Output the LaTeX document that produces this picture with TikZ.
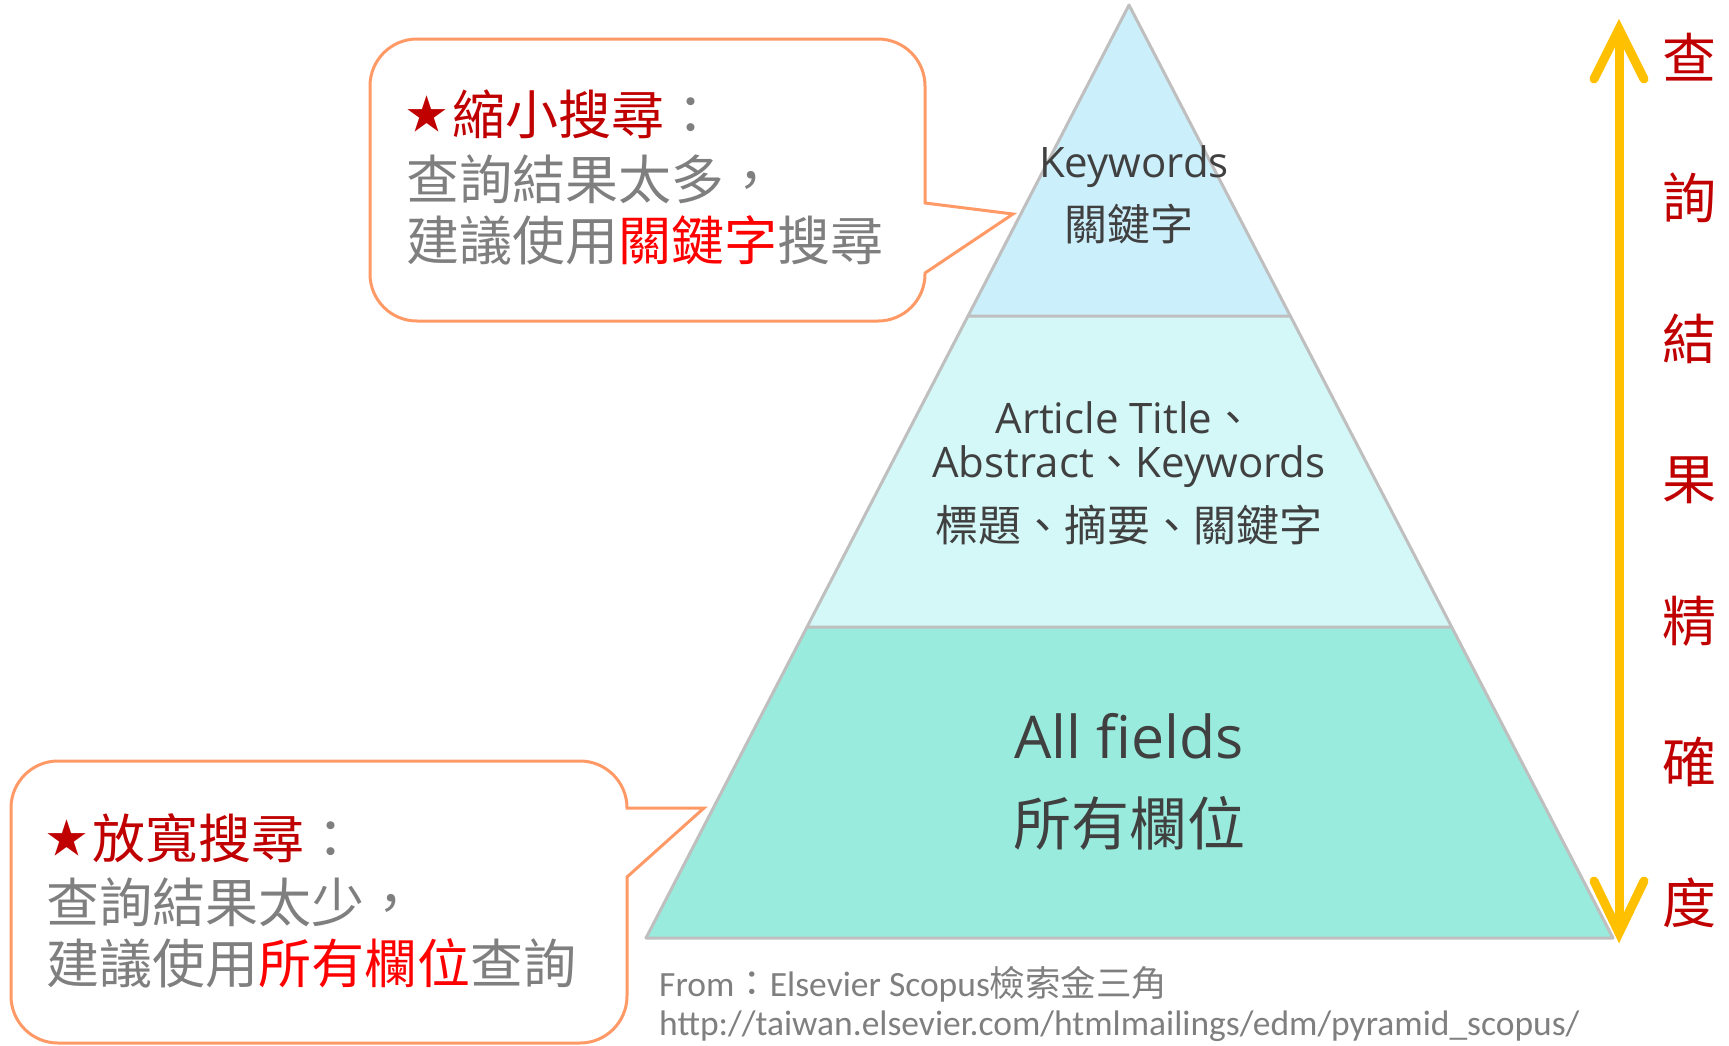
\documentclass[tikz,border=0pt]{standalone}
\usepackage{fontspec}
\setmainfont{Noto Sans CJK TC}
\newfontfamily\cjk{Noto Sans CJK TC}
\newfontfamily\lat{Open Sans}
\newfontfamily\foot{Carlito}
\usetikzlibrary{positioning,calc,arrows.meta}
\definecolor{tiertop}{HTML}{CCEFFC}
\definecolor{tiermid}{HTML}{D4F8F8}
\definecolor{tierbot}{HTML}{99EBDD}
\definecolor{edgegray}{HTML}{BFBFBF}
\definecolor{txtdark}{HTML}{404040}
\definecolor{txtgray}{HTML}{7F7F7F}
\definecolor{darkred}{HTML}{C00000}
\definecolor{callorange}{HTML}{FF9966}
\definecolor{arrowgold}{HTML}{FFC000}
\tikzset{
      tier/.style={draw=edgegray,line width=3pt,line join=round},
      callout/.style={draw=callorange,line width=3pt,line join=miter},
      lbl/.style={inner sep=0pt,outer sep=0pt,text=txtdark,anchor=base},
      calltext/.style={inner sep=0pt,anchor=base west,text=txtgray,font=\fontsize{53}{53}\selectfont},
      sidechar/.style={inner sep=0pt,text=darkred,font=\fontsize{54}{54}\selectfont},
      goldline/.style={draw=arrowgold,line width=9pt,line cap=round,line join=miter}
    }
\newcommand{\hl}[1]{\textcolor{red}{#1}}
\newcommand{\headstar}{\raisebox{5pt}{\fontsize{41}{41}\selectfont ★}\hspace{5pt}}

\begin{document}
\begin{tikzpicture}[x=1pt,y=-1pt]
\useasboundingbox (0,0) rectangle (1729,1045);
% pyramid
\coordinate (apex) at (1129,5);
\coordinate (bl) at (646,938);
\coordinate (br) at (1613,938);
\coordinate (l1) at ($(apex)!1/3!(bl)$);
\coordinate (r1) at ($(apex)!1/3!(br)$);
\coordinate (l2) at ($(apex)!2/3!(bl)$);
\coordinate (r2) at ($(apex)!2/3!(br)$);
\fill[tierbot] (l2) -- (r2) -- (br) -- (bl) -- cycle;
\fill[tiermid] (l1) -- (r1) -- (r2) -- (l2) -- cycle;
\fill[tiertop] (apex) -- (r1) -- (l1) -- cycle;
\draw[tier] (apex) -- (br) -- (bl) -- cycle (l1) -- (r1) (l2) -- (r2);

\node[lbl,font=\lat\fontsize{42}{42}\selectfont] (kw) at (1134,177) {Keywords};
\node[lbl,font=\fontsize{43}{43}\selectfont] (kwzh) at (1129,240) {關鍵字};
\node[lbl,font=\lat\fontsize{42}{42}\selectfont] (tia) at (1125,433) {Article Title{\cjk 、}};
\node[lbl,font=\lat\fontsize{42}{42}\selectfont] (tib) at (1129,477) {Abstract{\cjk 、}Keywords};
\node[lbl,font=\fontsize{43}{43}\selectfont] (tizh) at (1129,541) {標題、摘要、關鍵字};
\node[lbl,font=\lat\fontsize{59}{59}\selectfont] (all) at (1129,758) {All fields};
\node[lbl,font=\fontsize{58}{58}\selectfont] (allzh) at (1129,845) {所有欄位};

% callouts
\coordinate (tipA) at (1013,214);
\coordinate (tipB) at (704,808);
\draw[callout] (417,39) -- (878,39) arc[start angle=270,end angle=360,radius=47]
  -- (925,203) -- (tipA) -- (925,273) -- (925,274) arc[start angle=0,end angle=90,radius=47]
  -- (417,321) arc[start angle=90,end angle=180,radius=47]
  -- (370,86) arc[start angle=180,end angle=270,radius=47] -- cycle;
\draw[callout] (58,761) -- (580,761) arc[start angle=270,end angle=360,radius=47]
  -- (tipB) -- (627,877) -- (627,996) arc[start angle=0,end angle=90,radius=47]
  -- (58,1043) arc[start angle=90,end angle=180,radius=47]
  -- (11,808) arc[start angle=180,end angle=270,radius=47] -- cycle;

\node[calltext] (narrowhead) at (406,134) {\textcolor{darkred}{\headstar 縮小搜尋}：};
\node[calltext] (narrowa) at (406,199) {查詢結果太多，};
\node[calltext] (narrowb) at (406,260) {建議使用\hl{關鍵字}搜尋};
\node[calltext] (widehead) at (46,858) {\textcolor{darkred}{\headstar 放寬搜尋}：};
\node[calltext] (widea) at (46,922) {查詢結果太少，};
\node[calltext] (wideb) at (46,983) {建議使用\hl{所有欄位}查詢};

% precision arrow
\coordinate (atop) at (1619,29);
\coordinate (abot) at (1619,933);
\draw[goldline,line cap=butt] (atop) -- (abot);
\draw[goldline] ($(atop)+(-25,50)$) -- (atop) -- ($(atop)+(25,50)$);
\draw[goldline] ($(abot)+(-25,-52)$) -- (abot) -- ($(abot)+(25,-52)$);
\foreach \c [count=\i from 0] in {查,詢,結,果,精,確,度}
  \node[sidechar] (side\i) at (1689,{57+141*\i}) {\c};

% source
\node[anchor=base west,inner sep=0pt,text=txtgray,font=\foot\fontsize{35.5}{35.5}\selectfont] (src) at (659,996) {From{\cjk ：}Elsevier Scopus{\cjk 檢索金三角}};
\node[anchor=base west,inner sep=0pt,text=txtgray,font=\foot\fontsize{35.5}{35.5}\selectfont] (url) at (659,1035) {http://taiwan.elsevier.com/htmlmailings/edm/pyramid\_scopus/};
\end{tikzpicture}
\end{document}
